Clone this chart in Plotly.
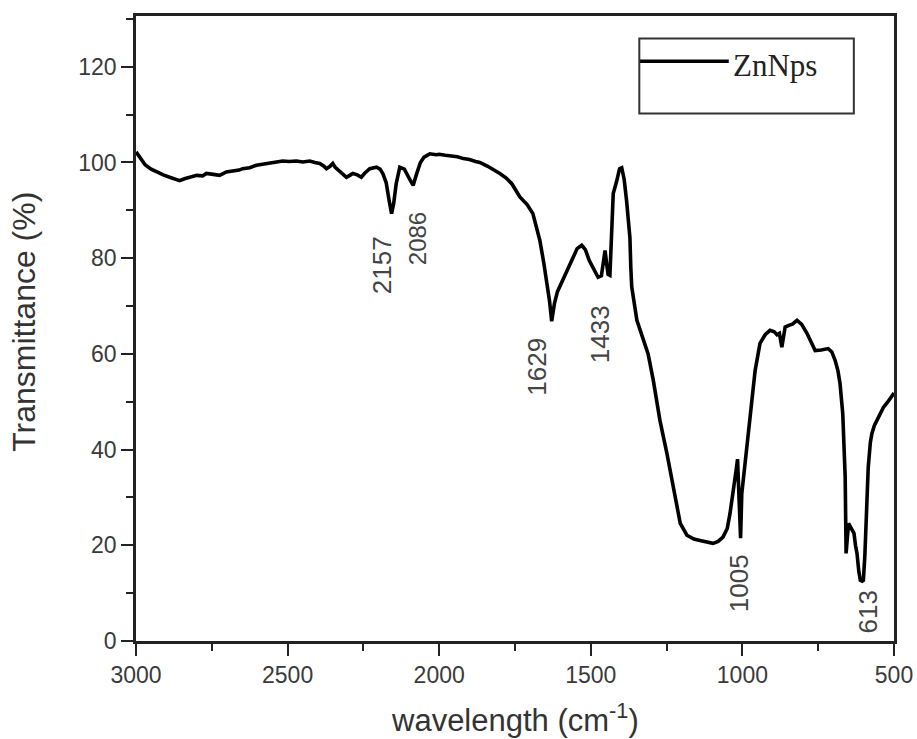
import plotly.graph_objects as go

# ---------------- data ----------------
wavenumber = [
    3000, 2985, 2970, 2950, 2933, 2910, 2889, 2870, 2856, 2840, 2823, 2800, 2780, 2768,
    2745, 2724, 2702, 2680, 2660, 2648, 2625, 2603, 2580, 2559, 2540, 2516, 2495, 2471,
    2450, 2427, 2410, 2394, 2380, 2372, 2360, 2351, 2343, 2335, 2320, 2306, 2295, 2285,
    2270, 2257, 2245, 2229, 2207, 2195, 2186, 2175, 2165, 2157, 2150, 2142, 2130, 2115,
    2100, 2086, 2075, 2062, 2050, 2031, 2010, 2000, 1980, 1960, 1940, 1920, 1900, 1880,
    1866, 1840, 1820, 1800, 1780, 1760, 1734, 1710, 1691, 1680, 1668, 1655, 1645, 1636,
    1629, 1620, 1610, 1592, 1575, 1559, 1545, 1530, 1518, 1505, 1490, 1476, 1465, 1458,
    1453, 1448, 1443, 1437, 1430, 1426, 1415, 1405, 1398, 1390, 1382, 1376, 1371, 1368,
    1365, 1348, 1330, 1311, 1294, 1272, 1249, 1228, 1205, 1183, 1160, 1140, 1118, 1097,
    1080, 1064, 1050, 1041, 1030, 1024, 1020, 1016, 1012, 1006, 1002, 991, 975, 958,
    942, 925, 909, 895, 886, 878, 870, 865, 859, 845, 835, 820, 805, 787, 775, 760, 740,
    717, 705, 694, 685, 678, 669, 661, 658, 654, 650, 645, 640, 632, 627, 622, 616, 611,
    605, 601, 596, 592, 585, 578, 573, 565, 556, 545, 535, 520, 507, 500,
]
transmittance = [
    102.2, 100.8, 99.5, 98.6, 98.0, 97.4, 96.9, 96.5, 96.2, 96.6, 96.9, 97.3, 97.2, 97.7,
    97.5, 97.3, 98.0, 98.2, 98.4, 98.7, 98.9, 99.4, 99.6, 99.8, 100.0, 100.3, 100.2, 100.3,
    100.1, 100.3, 100.0, 99.8, 99.2, 98.7, 99.2, 99.8, 99.0, 98.5, 97.6, 96.9, 97.3, 97.7,
    97.4, 96.9, 97.8, 98.7, 99.0, 98.6, 97.7, 95.8, 92.0, 89.3, 91.5, 95.5, 99.0, 98.6,
    96.8, 95.2, 97.5, 100.0, 101.1, 101.8, 101.6, 101.7, 101.5, 101.3, 101.2, 100.8, 100.6, 100.2,
    100.0, 99.2, 98.5, 97.7, 96.8, 95.5, 92.8, 91.2, 89.3, 86.5, 83.7, 79.0, 75.3, 71.0,
    66.8, 70.5, 73.0, 75.5, 78.2, 80.3, 82.0, 82.7, 81.8, 79.5, 77.5, 76.0, 76.3, 79.0,
    81.6, 79.0, 76.6, 76.4, 85.0, 93.5, 96.0, 98.7, 98.9, 96.5, 92.0, 87.0, 84.3, 78.0,
    74.0, 67.0, 63.8, 60.0, 54.5, 46.1, 39.2, 32.1, 24.6, 22.1, 21.3, 21.0, 20.6, 20.4,
    20.8, 21.7, 23.5, 26.6, 31.5, 33.6, 36.0, 38.0, 30.0, 21.5, 30.8, 37.0, 45.5, 56.5,
    62.2, 64.0, 64.9, 64.6, 64.0, 64.3, 61.4, 64.0, 65.6, 66.0, 66.2, 67.0, 66.2, 64.3, 62.5, 60.7, 60.8,
    61.1, 60.4, 58.6, 56.5, 53.8, 47.5, 34.3, 18.3, 21.0, 24.6, 24.0, 23.5, 22.5, 20.0, 18.3, 14.5, 12.7,
    12.5, 12.7, 18.0, 23.8, 36.3, 41.5, 43.3, 45.0, 46.1, 47.5, 48.8, 50.0, 51.3, 51.8,
]

peak_labels = ["2157", "2086", "1629", "1433", "1005", "613"]
label_x = [2186, 2071, 1676, 1470, 1011, 585]
label_y = [78.5, 84.1, 57.4, 64.1, 12.1, 6.0]
label_size = [26, 24, 26, 26, 26, 26]

series_name = "ZnNps"
x_ticks = [3000, 2500, 2000, 1500, 1000, 500]
y_ticks = [0, 20, 40, 60, 80, 100, 120]

# ---------------- figure ----------------
fig = go.Figure()
fig.add_trace(go.Scatter(
    x=wavenumber, y=transmittance, mode="lines", name=series_name,
    line=dict(color="black", width=3.6), showlegend=False,
))

tick_font = dict(family="Liberation Sans, Arial, sans-serif", size=23, color="#3a3a3a")

fig.update_xaxes(
    range=[3000, 500], tickvals=x_ticks, ticktext=[str(v) for v in x_ticks],
    ticks="outside", ticklen=12, tickwidth=2, tickcolor="#222",
    minor=dict(dtick=250, ticks="outside", ticklen=7, tickwidth=2, tickcolor="#222", showgrid=False),
    showline=True, linewidth=2.5, linecolor="#222", mirror=True,
    showgrid=False, zeroline=False, tickfont=tick_font, automargin=False,
)
fig.update_yaxes(
    range=[0, 130.6], tickvals=y_ticks, ticktext=[str(v) for v in y_ticks],
    ticks="outside", ticklen=12, tickwidth=2, tickcolor="#222",
    minor=dict(dtick=10, ticks="outside", ticklen=7, tickwidth=2, tickcolor="#222", showgrid=False),
    showline=True, linewidth=2.5, linecolor="#222", mirror=True,
    showgrid=False, zeroline=False, tickfont=tick_font, automargin=False,
)

annotations = []
for txt, xv, yv, sz in zip(peak_labels, label_x, label_y, label_size):
    annotations.append(dict(
        x=xv, y=yv, xref="x", yref="y", text=txt, showarrow=False, textangle=-90,
        font=dict(family="Liberation Sans, Arial, sans-serif", size=sz, color="#444"),
        xanchor="center", yanchor="middle",
    ))

# axis titles
annotations.append(dict(
    x=0.5, y=-0.123, xref="paper", yref="paper", showarrow=False,
    text="wavelength (cm<sup>-1</sup>)", xanchor="center", yanchor="middle",
    font=dict(family="Liberation Sans, Arial, sans-serif", size=31, color="#333"),
))
annotations.append(dict(
    x=-0.147, y=0.51, xref="paper", yref="paper", showarrow=False, textangle=-90,
    text="Transmittance (%)", xanchor="center", yanchor="middle",
    font=dict(family="Liberation Sans, Arial, sans-serif", size=32, color="#333"),
))

# legend (drawn manually)
annotations.append(dict(
    x=0.785, y=0.921, xref="paper", yref="paper", showarrow=False,
    text=series_name, xanchor="left", yanchor="middle",
    font=dict(family="Liberation Serif, Times New Roman, serif", size=31, color="#222"),
))
shapes = [
    dict(type="rect", xref="paper", yref="paper", x0=0.664, x1=0.947, y0=0.844, y1=0.964,
         line=dict(color="#333", width=2), fillcolor="rgba(0,0,0,0)"),
    dict(type="line", xref="paper", yref="paper", x0=0.665, x1=0.782, y0=0.9275, y1=0.9275,
         line=dict(color="black", width=3.6)),
]

fig.update_layout(
    width=917, height=739,
    margin=dict(l=136, r=23, t=16, b=98, autoexpand=False),
    paper_bgcolor="white", plot_bgcolor="white",
    annotations=annotations, shapes=shapes,
    showlegend=False,
)

fig.write_html("out.html")
